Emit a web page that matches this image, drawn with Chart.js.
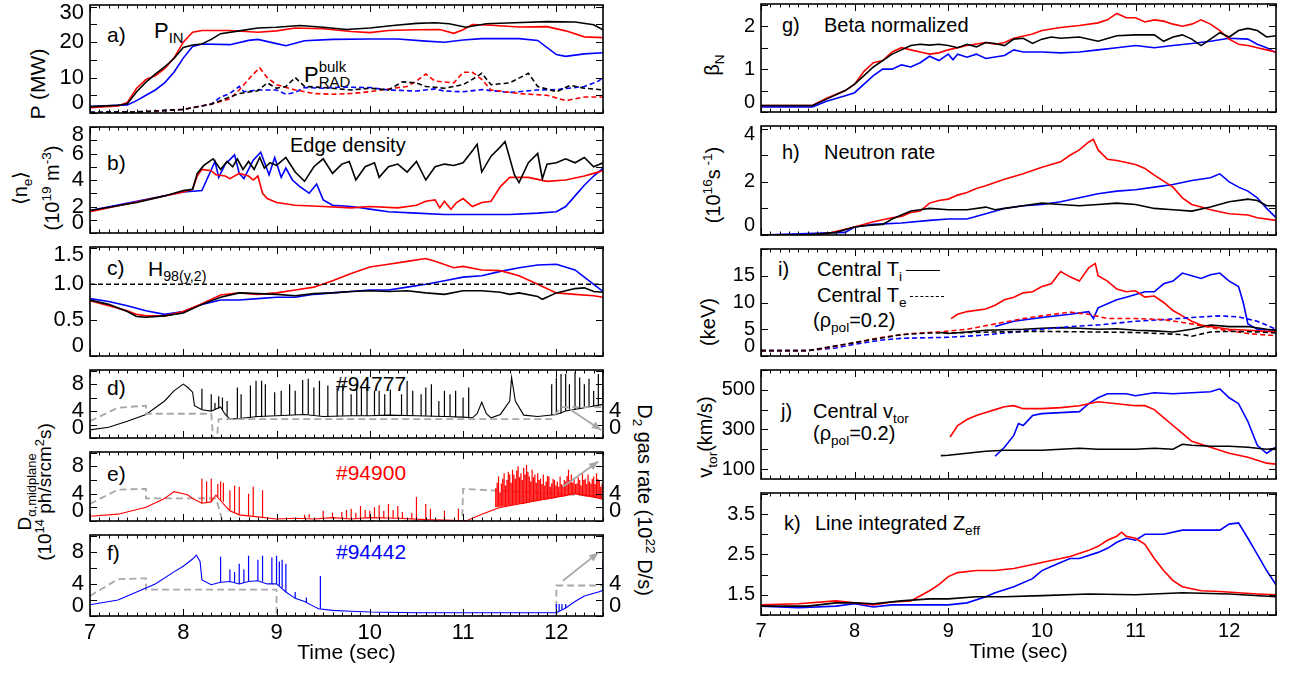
<!DOCTYPE html>
<html>
<head>
<meta charset="utf-8">
<script src="https://cdn.jsdelivr.net/npm/chart.js@4.4.1/dist/chart.umd.min.js"></script>
<style>
body { margin: 0; background: #fff; }
#fig { position: relative; width: 1295px; height: 675px; overflow: hidden; font-family: "Liberation Sans", Arial, Helvetica, sans-serif; color: #000; }
canvas { position: absolute; }
.lbl { position: absolute; white-space: nowrap; font-size: 20px; line-height: 1; transform: translateY(-50%); }
.vt { position: absolute; white-space: nowrap; font-size: 20px; line-height: 22px; text-align: center; transform: translate(-50%, -50%) rotate(-90deg); }
.vt.cw { transform: translate(-50%, -50%) rotate(90deg); }
sub, sup { font-size: 0.68em; line-height: 0; }
.smp { display: inline-block; width: 34px; border-top: 1.6px solid #000; vertical-align: middle; margin-left: 4px; }
.smp.d { border-top-style: dashed; }
</style>
</head>
<body>
<div id="fig">
  <!-- left column -->
  <div class="vt" style="left:38px;top:84px;font-size:21px">P (MW)</div>
  <div class="vt" style="left:36px;top:188px;line-height:32px">&#10216;n<sub>e</sub>&#10217;<br>(10<sup>19</sup> m<sup>-3</sup>)</div>
  <div class="vt" style="left:35px;top:492px;font-size:19px;line-height:20px">D<sub>&alpha;,midplane</sub><br>(10<sup>14</sup> ph/srcm<sup>2</sup>s)</div>
  <div class="vt cw" style="left:645px;top:500px">D<sub>2</sub> gas rate (10<sup>22</sup> D/s)</div>

  <div class="lbl" style="left:107px;top:34px;font-size:21px">a)</div>
  <div class="lbl" style="left:154px;top:31px;font-size:22px">P<sub>IN</sub></div>
  <div class="lbl" style="left:304px;top:74px;font-size:22px">P<span style="display:inline-block;vertical-align:-5px;font-size:15px;line-height:15px">bulk<br>RAD</span></div>
  <div class="lbl" style="left:107px;top:162px;font-size:21px">b)</div>
  <div class="lbl" style="left:290px;top:145px">Edge density</div>
  <div class="lbl" style="left:107px;top:267px;font-size:21px">c)</div>
  <div class="lbl" style="left:148px;top:268px;font-size:21px">H<sub>98(y,2)</sub></div>
  <div class="lbl" style="left:107px;top:387px;font-size:21px">d)</div>
  <div class="lbl" style="left:336px;top:383px;font-size:21px">#94777</div>
  <div class="lbl" style="left:107px;top:473px;font-size:21px">e)</div>
  <div class="lbl" style="left:336px;top:472px;font-size:21px;color:#ff0000">#94900</div>
  <div class="lbl" style="left:107px;top:552px;font-size:21px">f)</div>
  <div class="lbl" style="left:336px;top:551px;font-size:21px;color:#0000ff">#94442</div>

  <!-- right column -->
  <div class="vt" style="left:712px;top:65px">&beta;<sub>N</sub></div>
  <div class="vt" style="left:713px;top:185px">(10<sup>16</sup>s<sup> -1</sup>)</div>
  <div class="vt" style="left:708px;top:322px">(keV)</div>
  <div class="vt" style="left:705px;top:437px">v<sub>tor</sub>(km/s)</div>

  <div class="lbl" style="left:782px;top:25px">g)</div>
  <div class="lbl" style="left:824px;top:25px">Beta normalized</div>
  <div class="lbl" style="left:782px;top:152px">h)</div>
  <div class="lbl" style="left:824px;top:152px">Neutron rate</div>
  <div class="lbl" style="left:778px;top:269px">i)</div>
  <div class="lbl" style="left:817px;top:269px">Central T<sub>i</sub><span class="smp"></span></div>
  <div class="lbl" style="left:817px;top:295px">Central T<sub>e</sub><span class="smp d"></span></div>
  <div class="lbl" style="left:813px;top:320px">(&rho;<sub>pol</sub>=0.2)</div>
  <div class="lbl" style="left:781px;top:411px">j)</div>
  <div class="lbl" style="left:813px;top:411px">Central v<sub>tor</sub></div>
  <div class="lbl" style="left:813px;top:433px">(&rho;<sub>pol</sub>=0.2)</div>
  <div class="lbl" style="left:784px;top:523px">k)</div>
  <div class="lbl" style="left:815px;top:523px">Line integrated Z<sub>eff</sub></div>
</div>
<script>
// ---- a) input and radiated power (MW)
const pinBlack = [[7,1.8],[7.3,2.2],[7.4,2.6],[7.5,6.0],[7.6,8.7],[7.7,11],[7.8,13],[7.9,15.4],[8.0,18.5],[8.1,19.2],[8.2,19.5],[8.3,20.8],[8.4,22.4],[8.6,23.2],[8.8,24],[9,24.2],[9.25,24.7],[9.5,24.2],[9.75,23.6],[10,24],[10.25,24.7],[10.5,25.3],[10.7,25.5],[10.85,25.2],[11.03,24.2],[11.25,25.2],[11.55,25.5],[11.9,25.8],[12.2,25.7],[12.4,24.9],[12.5,23.5]];
const pinRed = [[7,1.5],[7.3,2.0],[7.4,3.0],[7.5,7.0],[7.6,9.5],[7.7,10.5],[7.8,12.5],[7.9,15.5],[8.0,20],[8.1,22.8],[8.2,23.3],[8.5,23.3],[8.8,22.8],[9.0,23.2],[9.2,24.0],[9.5,23.8],[9.8,23.0],[10.0,22.7],[10.2,23.3],[10.5,23.5],[10.75,23.6],[10.9,22.5],[11.0,23.5],[11.1,25.0],[11.3,24.8],[11.6,24.3],[11.9,24.4],[12.1,23.2],[12.3,21.5],[12.5,21.3]];
const pinBlue = [[7,1.8],[7.4,2.3],[7.5,3.5],[7.6,5.0],[7.7,6.5],[7.8,8.5],[7.9,11.5],[8.0,15.5],[8.1,18.8],[8.2,19.5],[8.5,19.3],[8.7,20.5],[8.8,20.8],[9.0,19.6],[9.1,19.0],[9.3,20.4],[9.6,20.8],[10.0,20.9],[10.3,20.9],[10.6,20.3],[10.8,20.0],[11.0,20.6],[11.2,21.0],[11.6,21.0],[11.8,20.5],[12.0,16.5],[12.1,16.0],[12.3,16.7],[12.5,17.0]];
const pradBlack = [[7,0.2],[7.5,0.3],[8.0,1.0],[8.3,2.5],[8.5,4.5],[8.6,5.5],[8.8,6.3],[8.9,8.5],[9.0,7.0],[9.1,7.5],[9.2,10],[9.3,7.5],[9.5,7.2],[9.8,6.5],[10.0,7.0],[10.2,6.5],[10.35,8.8],[10.5,8.5],[10.6,7.5],[10.8,7.0],[11.0,8.0],[11.1,9.5],[11.2,11.2],[11.3,8.0],[11.5,8.5],[11.7,11.2],[11.8,7.5],[12.0,6.0],[12.15,7.8],[12.3,7.0],[12.5,6.5]];
const pradRed = [[7,0],[7.5,0.2],[8.0,1.0],[8.3,2.5],[8.5,4.0],[8.6,6.5],[8.75,11],[8.82,12.7],[8.9,10],[9.0,8.0],[9.2,6.5],[9.4,5.5],[9.6,5.3],[9.8,5.5],[10.0,6.0],[10.2,6.8],[10.4,7.5],[10.5,9.0],[10.6,11.0],[10.7,9.0],[10.9,8.5],[11.0,11.5],[11.1,11.5],[11.2,9.5],[11.3,6.5],[11.6,5.5],[11.9,5.0],[12.1,3.5],[12.3,4.5],[12.5,4.5]];
const pradBlue = [[7,0.2],[7.5,0.3],[8.0,1.0],[8.3,2.5],[8.4,4.5],[8.5,5.5],[8.6,7.5],[8.65,6.0],[8.8,6.5],[9.0,6.5],[9.1,5.3],[9.2,5.8],[9.3,7.2],[9.5,7.0],[9.7,7.3],[10.0,7.2],[10.2,6.5],[10.5,6.2],[10.7,6.8],[10.8,6.2],[11.0,6.0],[11.2,6.6],[11.5,5.8],[11.8,6.5],[12.0,6.6],[12.3,7.5],[12.45,9.0],[12.5,10]];

// ---- b) edge density
const neBlack = [[7,1.7],[7.5,2.3],[7.8,2.8],[8.0,3.2],[8.1,3.3],[8.15,4.5],[8.22,5.1],[8.32,5.6],[8.4,4.8],[8.47,5.4],[8.53,5.0],[8.58,5.6],[8.64,4.8],[8.7,5.4],[8.76,4.8],[8.82,5.7],[8.87,4.9],[8.93,5.3],[9.0,5.1],[9.1,5.7],[9.2,4.6],[9.3,3.9],[9.4,5.0],[9.5,5.6],[9.6,4.5],[9.7,5.2],[9.78,5.4],[9.85,4.0],[9.95,5.0],[10.05,5.3],[10.1,4.2],[10.2,5.0],[10.3,5.2],[10.4,4.6],[10.5,5.4],[10.6,4.0],[10.7,5.0],[10.8,5.2],[10.9,5.1],[11.0,5.3],[11.1,6.2],[11.15,6.7],[11.2,4.6],[11.3,5.8],[11.4,6.5],[11.45,6.9],[11.55,4.4],[11.6,3.8],[11.7,5.3],[11.8,6.0],[11.85,4.1],[11.9,5.2],[12.0,5.3],[12.1,5.6],[12.2,5.3],[12.3,5.7],[12.4,5.0],[12.5,5.3]];
const neRed = [[7,1.6],[8.0,3.1],[8.1,3.3],[8.15,4.3],[8.2,4.8],[8.3,4.7],[8.35,4.4],[8.45,4.3],[8.5,4.1],[8.6,4.5],[8.7,4.3],[8.75,4.0],[8.8,4.3],[8.85,3.0],[8.9,2.6],[9.0,2.3],[9.2,2.1],[9.5,2.0],[9.8,1.9],[10.0,2.0],[10.3,1.9],[10.5,2.1],[10.6,2.4],[10.7,2.5],[10.75,1.9],[10.8,2.4],[10.87,1.8],[10.93,2.3],[11.0,2.6],[11.1,2.0],[11.2,2.3],[11.3,2.4],[11.4,3.5],[11.5,4.2],[11.7,4.2],[11.9,3.9],[12.1,4.0],[12.3,4.3],[12.4,4.5],[12.5,4.7]];
const neBlue = [[7,1.7],[8.0,3.1],[8.2,3.2],[8.34,5.4],[8.38,4.2],[8.45,5.2],[8.55,5.9],[8.6,4.5],[8.65,4.1],[8.75,5.5],[8.83,6.1],[8.92,4.4],[8.98,5.7],[9.05,4.2],[9.1,4.9],[9.17,4.0],[9.25,3.5],[9.35,3.0],[9.43,3.7],[9.5,2.5],[9.6,2.1],[9.8,2.0],[9.9,1.9],[10.0,1.8],[10.2,1.6],[10.5,1.5],[10.8,1.4],[11.0,1.4],[11.5,1.4],[11.8,1.5],[12.0,1.6],[12.1,2.0],[12.2,2.8],[12.3,3.6],[12.4,4.3],[12.5,4.9]];

// ---- c) H98(y,2)
const hBlack = [[7,0.78],[7.2,0.72],[7.4,0.62],[7.5,0.55],[7.6,0.54],[7.8,0.56],[8.0,0.6],[8.2,0.72],[8.4,0.82],[8.6,0.88],[8.8,0.87],[9.0,0.86],[9.2,0.84],[9.4,0.87],[9.6,0.88],[9.8,0.9],[10.0,0.91],[10.2,0.9],[10.4,0.91],[10.6,0.88],[10.8,0.86],[11.0,0.91],[11.2,0.91],[11.4,0.89],[11.5,0.86],[11.6,0.88],[11.8,0.83],[11.85,0.79],[12.0,0.88],[12.2,0.94],[12.3,0.95],[12.4,0.9],[12.5,0.89]];
const hRed = [[7,0.77],[7.2,0.7],[7.4,0.63],[7.5,0.58],[7.6,0.56],[7.8,0.56],[8.0,0.62],[8.2,0.73],[8.4,0.85],[8.6,0.88],[8.8,0.86],[9.0,0.88],[9.2,0.92],[9.4,0.96],[9.6,1.05],[9.8,1.15],[10.0,1.24],[10.2,1.28],[10.4,1.32],[10.6,1.36],[10.7,1.32],[10.9,1.23],[11.0,1.25],[11.2,1.2],[11.4,1.19],[11.6,1.12],[11.8,1.0],[12.0,0.88],[12.2,0.86],[12.4,0.84],[12.5,0.82]];
const hBlue = [[7,0.8],[7.2,0.76],[7.4,0.7],[7.6,0.63],[7.8,0.58],[8.0,0.62],[8.2,0.72],[8.4,0.78],[8.6,0.78],[8.8,0.8],[9.0,0.82],[9.2,0.82],[9.4,0.86],[9.6,0.88],[9.8,0.9],[10.0,0.92],[10.2,0.92],[10.4,0.96],[10.6,1.0],[10.8,1.05],[11.0,1.1],[11.2,1.12],[11.4,1.18],[11.6,1.23],[11.8,1.27],[12.0,1.28],[12.2,1.2],[12.4,1.0],[12.5,0.9]];
const hRef = [[7,1],[12.5,1]];

// ---- d,e,f) D-alpha (base line + ELM spikes [t, base, peak]) and D2 gas rate
const daBlack = [[7,1.2],[7.2,1.6],[7.4,2.5],[7.6,3.5],[7.8,5.5],[7.9,7.0],[8.0,8.0],[8.05,7.5],[8.1,6.8],[8.12,4.8],[8.2,4.2],[8.3,4.0],[8.4,4.6],[8.45,3.5],[8.5,2.8],[8.6,2.9],[8.8,3.2],[9.0,3.3],[9.3,3.5],[9.5,3.2],[9.8,3.3],[10,3.3],[10.2,3.4],[10.5,3.3],[10.8,3.2],[11.0,3.1],[11.1,3.0],[11.15,3.6],[11.2,5.3],[11.25,3.6],[11.3,3.0],[11.4,3.5],[11.5,5.5],[11.52,9.0],[11.56,5.5],[11.65,3.4],[11.8,3.2],[12.0,3.5],[12.1,4.0],[12.3,4.5],[12.5,5.0]];
const elmBlack = [[8.2,4.2,7.3],[8.3,4,6.5],[8.34,4.2,5.2],[8.38,4.4,6.2],[8.42,4.2,6.0],[8.47,3.3,5.5],[8.58,2.9,7.5],[8.62,2.9,6.5],[8.72,3.0,7.8],[8.78,3.1,8.5],[8.84,3.1,8.5],[8.88,3.2,8.0],[8.98,3.3,6.8],[9.05,3.3,7.0],[9.14,3.4,8.0],[9.2,3.4,7.0],[9.28,3.5,8.6],[9.34,3.5,8.8],[9.4,3.4,7.5],[9.46,3.3,8.5],[9.55,3.2,7.8],[9.65,3.2,7.5],[9.71,3.3,8.0],[9.8,3.3,6.5],[9.86,3.3,8.0],[9.91,3.3,7.5],[9.97,3.3,8.0],[10.05,3.3,7.0],[10.1,3.3,7.0],[10.16,3.4,6.5],[10.22,3.4,7.2],[10.34,3.3,6.5],[10.4,3.3,8.5],[10.46,3.3,7.0],[10.55,3.3,6.5],[10.6,3.3,7.5],[10.66,3.2,8.0],[10.74,3.2,5.5],[10.8,3.2,7.0],[10.86,3.2,6.5],[10.92,3.1,7.0],[11.0,3.1,6.0],[11.06,3.1,7.5],[11.95,3.4,8.0],[12.0,3.5,9.0],[12.05,3.6,9.5],[12.1,4.0,9.5],[12.14,4.1,8.0],[12.2,4.3,9.8],[12.25,4.4,9.0],[12.3,4.5,8.0],[12.35,4.6,8.8],[12.4,4.7,7.0],[12.45,4.8,9.5],[12.5,5.0,9.8]];
const gasD = [[7,2.5],[7.3,4.5],[7.6,4.8],[7.6,3.6],[8.3,3.6],[8.32,0],[8.36,0],[8.38,2.8],[11.95,2.8],[12.05,4.6],[12.5,4.6]];
const arrowD = [12.14, 4.3, 12.48, 1.2];

const daRed = [[7,0.7],[7.3,1.0],[7.6,2.0],[7.8,3.3],[7.9,4.3],[8.0,4.0],[8.05,3.8],[8.1,3.3],[8.2,2.6],[8.3,2.8],[8.35,3.8],[8.4,3.0],[8.45,2.2],[8.5,1.5],[8.6,0.9],[8.8,0.6],[9.0,0.3],[9.2,0.4],[9.4,0.3],[9.6,0.5],[9.8,0.3],[10.0,0.5],[10.3,0.4],[10.6,0.2],[10.9,0.1],[11.0,0],[11.05,0.1],[11.2,1.0],[11.4,2.0],[11.6,2.5],[11.8,3.0],[12.0,3.5],[12.2,4.0],[12.4,3.5],[12.5,3.2]];
const elmRed = [[8.2,2.6,6.2],[8.25,2.7,5.8],[8.3,2.8,6.2],[8.37,3.5,5.4],[8.4,3.0,5.8],[8.43,2.8,5.6],[8.5,1.5,4.5],[8.55,1.2,5.2],[8.6,0.9,5.0],[8.7,0.7,4.0],[8.75,0.7,5.0],[8.85,0.6,4.5],[9.3,0.4,0.9],[9.35,0.4,1.0],[9.5,0.4,1.5],[9.6,0.5,1.2],[9.7,0.4,1.3],[9.75,0.3,1.6],[9.8,0.3,1.8],[9.85,0.3,1.2],[9.9,0.3,2.2],[9.95,0.4,1.6],[10.0,0.5,1.5],[10.05,0.5,2.0],[10.1,0.5,2.3],[10.15,0.4,1.5],[10.2,0.4,2.5],[10.25,0.4,1.6],[10.3,0.4,2.2],[10.35,0.4,1.3],[10.45,0.3,1.2],[10.5,0.3,3.5],[10.6,0.2,2.5],[10.65,0.2,1.8],[10.8,0.1,1.5],[10.95,0.1,1.8],[11.35,2.0,4.8],[11.365,2.0,5.6],[11.38,2.1,6.5],[11.395,2.1,4.2],[11.41,2.1,5.5],[11.425,2.2,6.2],[11.44,2.2,7.0],[11.455,2.2,5.2],[11.47,2.2,6.0],[11.485,2.3,7.2],[11.5,2.3,6.8],[11.515,2.3,5.6],[11.53,2.3,7.5],[11.545,2.4,6.8],[11.56,2.4,6.2],[11.575,2.4,7.4],[11.59,2.5,8.0],[11.605,2.5,6.4],[11.62,2.5,7.0],[11.635,2.5,6.0],[11.65,2.5,7.8],[11.665,2.6,6.8],[11.68,2.6,8.2],[11.695,2.7,7.2],[11.71,2.7,6.5],[11.725,2.8,5.8],[11.74,2.8,7.5],[11.755,2.8,6.4],[11.77,2.9,6.8],[11.785,2.9,5.6],[11.8,3.0,7.0],[11.815,3.0,6.0],[11.83,3.0,6.2],[11.845,3.1,5.4],[11.86,3.1,6.8],[11.875,3.1,5.2],[11.89,3.2,5.8],[11.905,3.2,6.6],[11.92,3.2,6.5],[11.935,3.3,5.0],[11.95,3.3,5.5],[11.965,3.3,6.2],[11.98,3.4,6.0],[11.995,3.4,5.2],[12.01,3.5,5.8],[12.025,3.5,5.0],[12.04,3.5,6.5],[12.055,3.5,5.4],[12.07,3.6,5.2],[12.085,3.6,6.0],[12.1,3.7,5.8],[12.115,3.7,6.6],[12.13,3.8,7.5],[12.145,3.8,6.0],[12.16,3.9,6.8],[12.175,3.9,5.6],[12.19,4.0,6.2],[12.205,4.0,5.4],[12.22,3.9,5.5],[12.235,3.9,6.4],[12.25,3.8,6.0],[12.265,3.8,5.2],[12.28,3.7,7.0],[12.295,3.7,6.0],[12.31,3.6,6.2],[12.325,3.6,5.4],[12.34,3.6,6.8],[12.355,3.5,5.8],[12.37,3.5,5.5],[12.385,3.5,6.2],[12.4,3.5,6.5],[12.415,3.4,5.4],[12.43,3.4,7.0],[12.445,3.4,6.2],[12.46,3.3,6.0],[12.475,3.3,5.0],[12.49,3.2,5.5]];
const gasE = [[7,2.5],[7.3,4.6],[7.6,4.7],[7.6,3.3],[8.35,3.3],[8.38,2.0],[8.42,0],[10.99,0],[11.0,4.7],[12.0,4.0],[12.5,3.6]];
const arrowE = [12.07, 5.0, 12.45, 8.7];

const daBlue = [[7,1.4],[7.3,2.0],[7.5,3.0],[7.7,4.0],[7.9,5.5],[8.0,6.2],[8.1,7.1],[8.14,7.6],[8.18,6.8],[8.2,4.5],[8.3,3.9],[8.4,4.2],[8.5,4.3],[8.6,4.0],[8.7,4.3],[8.8,4.4],[8.9,4.0],[9.0,4.0],[9.05,3.5],[9.1,3.0],[9.2,2.2],[9.3,1.8],[9.4,1.2],[9.45,0.9],[9.6,0.7],[9.8,0.6],[10.0,0.5],[10.5,0.4],[11.0,0.4],[11.5,0.4],[12.0,0.4],[12.1,1.0],[12.2,1.8],[12.3,2.5],[12.45,3.0],[12.5,3.2]];
const elmBlue = [[8.4,4.2,7.4],[8.5,4.3,5.8],[8.55,4.2,5.5],[8.6,4.0,6.5],[8.65,4.1,5.8],[8.7,4.3,7.5],[8.8,4.4,7.0],[8.85,4.3,7.5],[8.95,4.0,7.3],[9.0,4.0,7.5],[9.03,3.8,6.8],[9.06,3.5,7.0],[9.1,3.0,6.5],[9.2,2.2,3.0],[9.32,1.7,2.3],[9.47,0.9,5.0],[12.0,0.4,1.5],[12.03,0.6,1.5],[12.06,0.8,1.5],[12.1,1.0,1.5],[12.5,3.2,6.8]];
const gasF = [[7,2.5],[7.3,4.6],[7.6,4.7],[7.6,3.3],[9.0,3.3],[9.0,0],[12.0,0],[12.0,3.8],[12.5,3.8]];
const arrowF = [12.07, 4.4, 12.45, 7.9];

// ---- g) beta N
const bnBlack = [[7,0.15],[7.55,0.15],[7.7,0.3],[7.9,0.5],[8.0,0.65],[8.1,0.85],[8.2,1.05],[8.3,1.2],[8.4,1.35],[8.5,1.45],[8.6,1.55],[8.7,1.58],[8.8,1.56],[8.9,1.58],[9.0,1.55],[9.1,1.5],[9.2,1.58],[9.3,1.52],[9.4,1.62],[9.5,1.6],[9.6,1.55],[9.7,1.7],[9.8,1.72],[9.9,1.6],[10.0,1.7],[10.1,1.75],[10.2,1.72],[10.4,1.75],[10.6,1.65],[10.8,1.78],[11.0,1.8],[11.2,1.8],[11.3,1.65],[11.4,1.75],[11.5,1.8],[11.6,1.7],[11.7,1.55],[11.8,1.7],[11.9,1.85],[12.0,1.75],[12.1,1.9],[12.2,1.95],[12.3,1.9],[12.4,1.75],[12.5,1.78]];
const bnRed = [[7,0.15],[7.55,0.15],[7.7,0.32],[7.9,0.5],[8.0,0.65],[8.1,0.95],[8.2,1.15],[8.3,1.2],[8.4,1.4],[8.5,1.5],[8.6,1.45],[8.7,1.4],[8.8,1.35],[8.9,1.38],[9.0,1.45],[9.2,1.55],[9.4,1.62],[9.5,1.58],[9.6,1.62],[9.7,1.72],[9.9,1.82],[10.0,1.9],[10.2,1.97],[10.4,2.02],[10.6,2.08],[10.7,2.15],[10.8,2.3],[10.9,2.2],[11.0,2.2],[11.1,2.1],[11.2,2.15],[11.3,2.12],[11.4,2.05],[11.5,2.0],[11.6,2.05],[11.7,2.15],[11.8,2.05],[11.9,1.9],[12.0,1.7],[12.1,1.58],[12.2,1.55],[12.3,1.5],[12.4,1.45],[12.5,1.4]];
const bnBlue = [[7,0.12],[7.55,0.12],[7.7,0.25],[7.9,0.38],[8.0,0.45],[8.1,0.65],[8.2,0.85],[8.3,1.0],[8.4,1.0],[8.5,1.1],[8.6,1.05],[8.7,1.15],[8.8,1.3],[8.9,1.2],[9.0,1.35],[9.05,1.22],[9.1,1.35],[9.2,1.28],[9.3,1.35],[9.4,1.25],[9.6,1.32],[9.7,1.45],[9.8,1.4],[10.0,1.4],[10.2,1.38],[10.4,1.4],[10.6,1.45],[10.8,1.5],[11.0,1.55],[11.2,1.5],[11.4,1.55],[11.6,1.6],[11.8,1.65],[12.0,1.72],[12.2,1.7],[12.3,1.58],[12.4,1.5],[12.5,1.38]];

// ---- h) neutron rate
const nrBlack = [[7,0],[7.5,0],[7.8,0.1],[8.0,0.3],[8.1,0.35],[8.3,0.4],[8.4,0.6],[8.5,0.75],[8.6,0.9],[8.7,0.95],[8.8,1.0],[9.0,0.95],[9.2,0.95],[9.4,1.05],[9.5,0.95],[9.6,1.0],[9.8,1.1],[10.0,1.2],[10.2,1.15],[10.4,1.1],[10.6,1.15],[10.8,1.2],[11.0,1.15],[11.2,1.0],[11.4,0.95],[11.6,0.9],[11.8,1.05],[12.0,1.25],[12.2,1.35],[12.3,1.3],[12.4,1.1],[12.5,1.1]];
const nrRed = [[7,0],[7.5,0],[7.7,0.05],[8.0,0.3],[8.2,0.5],[8.4,0.65],[8.5,0.7],[8.6,0.85],[8.7,0.9],[8.8,1.2],[8.9,1.3],[9.0,1.35],[9.1,1.5],[9.2,1.6],[9.3,1.75],[9.4,1.85],[9.6,2.1],[9.8,2.3],[10.0,2.55],[10.2,2.75],[10.3,3.0],[10.4,3.2],[10.5,3.5],[10.55,3.6],[10.6,3.2],[10.7,2.85],[10.8,2.8],[11.0,2.65],[11.1,2.5],[11.2,2.25],[11.4,1.8],[11.5,1.4],[11.6,1.15],[11.7,1.05],[11.8,0.95],[12.0,0.8],[12.2,0.75],[12.3,0.65],[12.5,0.55]];
const nrBlue = [[7,0],[7.9,0.1],[8.0,0.3],[8.2,0.4],[8.5,0.45],[8.8,0.55],[9.0,0.6],[9.2,0.6],[9.4,0.8],[9.6,1.0],[9.8,1.1],[10.0,1.15],[10.2,1.25],[10.4,1.4],[10.6,1.55],[10.8,1.65],[11.0,1.7],[11.2,1.8],[11.4,1.9],[11.6,2.05],[11.8,2.15],[11.9,2.3],[12.0,2.0],[12.1,1.8],[12.2,1.65],[12.3,1.4],[12.4,1.0],[12.5,0.65]];

// ---- i) central Ti (solid) and Te (dashed), keV
const tiBlack = [[8.92,4.4],[9.0,4.2],[9.2,4.5],[9.4,4.8],[9.6,4.9],[9.8,5.0],[10.0,5.2],[10.2,5.3],[10.4,5.2],[10.6,5.0],[10.8,5.1],[11.0,4.8],[11.2,4.7],[11.4,4.5],[11.6,5.0],[11.8,5.8],[12.0,5.5],[12.2,5.5],[12.4,5.0],[12.5,4.8]];
const tiRed = [[9.03,7.0],[9.1,7.8],[9.2,8.3],[9.4,8.8],[9.5,9.5],[9.6,10.5],[9.7,11.0],[9.8,11.8],[9.9,12.0],[10.0,13.0],[10.1,13.5],[10.2,15.8],[10.3,14.8],[10.4,14.0],[10.5,16.5],[10.57,17.3],[10.6,15.0],[10.7,14.0],[10.8,12.5],[10.9,12.0],[11.0,12.2],[11.1,11.0],[11.2,11.2],[11.3,10.0],[11.4,8.5],[11.5,7.5],[11.6,6.5],[11.7,5.8],[11.8,5.5],[12.0,5.0],[12.2,4.8],[12.5,4.5]];
const tiBlue = [[9.5,5.5],[9.7,6.5],[10.0,7.2],[10.3,7.8],[10.5,8.3],[10.55,7.0],[10.6,9.0],[10.8,10.5],[10.9,11.0],[11.0,11.5],[11.1,12.0],[11.2,12.0],[11.3,13.5],[11.4,14.0],[11.5,15.5],[11.6,15.0],[11.7,14.5],[11.8,15.2],[11.9,15.5],[12.0,14.0],[12.1,13.0],[12.15,10.0],[12.2,6.0],[12.3,5.0],[12.5,4.8]];
const teBlack = [[7,1.0],[7.5,1.0],[8.0,2.5],[8.5,4.0],[8.8,4.3],[9.0,4.3],[9.5,4.5],[10.0,4.6],[10.5,4.5],[11.0,4.4],[11.5,4.0],[11.6,3.7],[11.8,4.5],[12.0,4.6],[12.3,4.5],[12.5,4.3]];
const teRed = [[7,1.0],[7.5,1.0],[7.7,1.5],[8.0,2.5],[8.3,3.5],[8.6,4.2],[8.9,4.5],[9.2,5.0],[9.5,6.0],[9.8,7.0],[10.0,7.5],[10.3,8.2],[10.5,7.8],[10.7,7.0],[11.0,7.0],[11.3,6.8],[11.6,6.0],[11.9,5.0],[12.2,4.2],[12.5,3.8]];
const teBlue = [[7,1.0],[7.5,1.0],[7.8,1.5],[8.0,2.2],[8.3,3.0],[8.5,3.3],[9.0,3.5],[9.3,3.8],[9.6,4.3],[10.0,5.0],[10.3,5.5],[10.6,5.8],[11.0,6.5],[11.3,6.8],[11.6,7.2],[11.9,7.5],[12.1,7.3],[12.3,6.5],[12.5,5.0]];

// ---- j) central v_tor (km/s)
const vtBlack = [[8.92,168],[9.0,170],[9.2,180],[9.4,190],[9.6,195],[10.0,195],[10.2,200],[10.4,205],[10.6,200],[10.8,200],[11.0,200],[11.2,205],[11.4,200],[11.5,225],[11.6,220],[11.8,215],[12.0,215],[12.2,210],[12.4,200],[12.5,205]];
const vtRed = [[9.02,262],[9.1,320],[9.2,350],[9.3,370],[9.4,385],[9.5,400],[9.6,415],[9.7,420],[9.8,405],[10.0,405],[10.2,410],[10.4,420],[10.6,440],[10.8,430],[11.0,420],[11.1,420],[11.2,400],[11.3,360],[11.4,320],[11.5,280],[11.6,240],[11.8,210],[12.0,180],[12.2,160],[12.4,130],[12.5,125]];
const vtBlue = [[9.5,165],[9.6,210],[9.7,270],[9.75,330],[9.8,320],[9.9,370],[10.0,380],[10.2,385],[10.4,390],[10.5,430],[10.6,460],[10.7,480],[10.9,480],[11.0,470],[11.2,485],[11.4,480],[11.6,485],[11.8,490],[11.9,505],[12.0,460],[12.1,430],[12.2,340],[12.3,220],[12.4,180],[12.5,210]];

// ---- k) line integrated Zeff
const zBlack = [[7,1.22],[7.5,1.22],[7.8,1.3],[8.0,1.3],[8.2,1.28],[8.5,1.35],[8.8,1.4],[9.0,1.4],[9.3,1.45],[9.6,1.45],[10.0,1.48],[10.5,1.52],[11.0,1.5],[11.5,1.55],[12.0,1.52],[12.5,1.45]];
const zRed = [[7,1.25],[7.4,1.28],[7.8,1.35],[8.0,1.3],[8.2,1.25],[8.4,1.32],[8.6,1.35],[8.8,1.6],[8.9,1.75],[9.0,1.95],[9.1,2.05],[9.3,2.1],[9.5,2.1],[9.7,2.15],[9.9,2.25],[10.1,2.35],[10.3,2.45],[10.5,2.6],[10.6,2.7],[10.7,2.85],[10.8,2.95],[10.85,3.05],[10.9,2.95],[11.0,2.9],[11.1,2.75],[11.2,2.4],[11.3,2.1],[11.4,1.85],[11.5,1.7],[11.7,1.6],[11.9,1.58],[12.1,1.55],[12.3,1.52],[12.5,1.5]];
const zBlue = [[7,1.22],[7.4,1.18],[7.8,1.22],[8.0,1.28],[8.2,1.2],[8.4,1.25],[8.6,1.25],[8.8,1.25],[9.0,1.25],[9.2,1.3],[9.4,1.45],[9.5,1.55],[9.7,1.7],[9.9,1.9],[10.0,2.1],[10.1,2.2],[10.2,2.3],[10.3,2.4],[10.4,2.4],[10.6,2.55],[10.7,2.65],[10.8,2.8],[10.9,2.9],[11.0,2.85],[11.1,3.0],[11.3,3.0],[11.5,3.1],[11.7,3.1],[11.9,3.1],[12.0,3.25],[12.1,3.28],[12.2,2.9],[12.3,2.5],[12.4,2.1],[12.5,1.75]];

// tick labels of each y axis
const ticksA = ['0','10','20','30'], ticksB = ['0','2','4','6','8'], ticksC = ['0','0.5','1.0','1.5'];
const ticksDa = ['0','4','8'], ticksGas = ['0','4'];
const ticksG = ['0','1','2'], ticksH = ['0','2','4'], ticksI = ['0','5','10','15'], ticksJ = ['100','300','500'], ticksK = ['1.5','2.5','3.5'];

const BLACK = '#000000', RED = '#ff0000', BLUE = '#0000ff', GRAY = '#a8a8a8';
const FONT = "'Liberation Sans', Arial, Helvetica, sans-serif";
Chart.defaults.font.family = FONT;
Chart.defaults.color = '#000';
const fig = document.getElementById('fig');

function line(data, color, extra) {
  return Object.assign({ data: data, borderColor: color, borderWidth: 1.6, pointRadius: 0, fill: false, tension: 0, yAxisID: 'y' }, extra || {});
}
function dashed(data, color) { return line(data, color, { borderDash: [5, 3] }); }
function gas(data) { return line(data, GRAY, { borderDash: [7, 4], borderWidth: 1.8, yAxisID: 'y2' }); }
function spikes(list, color) {
  const pts = [];
  for (const [t, b, p] of list) pts.push([t, b], [t, p], [t, b], [t, null]);
  return line(pts, color, { borderWidth: 1.2 });
}

// frame, inward ticks, tick labels kept inside the frame, gray arrows
const framePlugin = {
  id: 'frame',
  afterDatasetsDraw(chart, args, o) {
    const ctx = chart.ctx, a = chart.chartArea, sx = chart.scales.x;
    ctx.save();
    ctx.strokeStyle = '#000';
    ctx.lineWidth = 1;
    ctx.beginPath();
    for (let k = 70; k <= 125; k++) {
      const px = Math.round(sx.getPixelForValue(k / 10)) + 0.5;
      const len = k % 10 === 0 ? 7 : 3.5;
      ctx.moveTo(px, a.bottom); ctx.lineTo(px, a.bottom - len);
      ctx.moveTo(px, a.top); ctx.lineTo(px, a.top + len);
    }
    const sy = chart.scales.y, s2 = chart.scales.y2;
    for (const t of sy.ticks) {
      const py = Math.round(sy.getPixelForValue(t.value)) + 0.5;
      ctx.moveTo(a.left, py); ctx.lineTo(a.left + 7, py);
      if (!s2) { ctx.moveTo(a.right, py); ctx.lineTo(a.right - 7, py); }
    }
    if (s2) {
      for (const t of s2.ticks) {
        const py = Math.round(s2.getPixelForValue(t.value)) + 0.5;
        ctx.moveTo(a.right, py); ctx.lineTo(a.right - 7, py);
      }
    }
    ctx.stroke();
    ctx.lineWidth = 1.6;
    ctx.strokeRect(a.left, a.top, a.right - a.left, a.bottom - a.top);

    ctx.fillStyle = '#000';
    ctx.font = o.size + 'px ' + FONT;
    ctx.textBaseline = 'middle';
    const put = (scale, labels, x, align) => {
      ctx.textAlign = align;
      for (const l of labels) {
        let py = scale.getPixelForValue(parseFloat(l));
        py = Math.min(Math.max(py, a.top + 8), a.bottom - 10);
        ctx.fillText(l, x, py);
      }
    };
    put(sy, o.yLabels, a.left - 6, 'right');
    if (s2) put(s2, o.y2Labels, a.right + 6, 'left');

    if (o.arrow) {
      const r = o.arrow;
      const x1 = sx.getPixelForValue(r[0]), y1 = s2.getPixelForValue(r[1]);
      const x2 = sx.getPixelForValue(r[2]), y2 = s2.getPixelForValue(r[3]);
      const ang = Math.atan2(y2 - y1, x2 - x1);
      ctx.strokeStyle = GRAY; ctx.fillStyle = GRAY; ctx.lineWidth = 1.8;
      ctx.beginPath(); ctx.moveTo(x1, y1); ctx.lineTo(x2, y2); ctx.stroke();
      ctx.beginPath();
      ctx.moveTo(x2, y2);
      ctx.lineTo(x2 - 10 * Math.cos(ang - 0.4), y2 - 10 * Math.sin(ang - 0.4));
      ctx.lineTo(x2 - 10 * Math.cos(ang + 0.4), y2 - 10 * Math.sin(ang + 0.4));
      ctx.closePath(); ctx.fill();
    }
    ctx.restore();
  }
};

function axisY(pos, spec, width) {
  return {
    type: 'linear', position: pos, min: spec.min, max: spec.max,
    afterFit: s => { s.width = width; },
    grid: { display: false, drawTicks: false },
    border: { display: false },
    ticks: { display: false, stepSize: spec.step, includeBounds: false, autoSkip: false }
  };
}

function makePanel(box, y, sets, more) {
  more = more || {};
  const L = 90, R = 50, PT = 14, PB = more.bottom ? 52 : 14;
  const size = box[0] > 700 ? 20 : 22;
  const cv = document.createElement('canvas');
  cv.width = box[2] - box[0] + L + R;
  cv.height = box[3] - box[1] + PT + PB;
  cv.style.left = (box[0] - L) + 'px';
  cv.style.top = (box[1] - PT) + 'px';
  fig.appendChild(cv);
  const scales = {
    x: {
      type: 'linear', min: 7, max: 12.5, display: !!more.bottom,
      afterFit: s => { s.height = PB; },
      grid: { display: false, drawTicks: false },
      border: { display: false },
      ticks: { stepSize: 1, includeBounds: false, autoSkip: false, maxRotation: 0, padding: 4, font: { size: size }, color: '#000' },
      title: { display: !!more.bottom, text: 'Time (sec)', font: { size: 21 }, color: '#000', padding: { top: 2, bottom: 2 } }
    },
    y: axisY('left', y, L)
  };
  if (more.y2) scales.y2 = axisY('right', more.y2, R);
  new Chart(cv, {
    type: 'line',
    data: { datasets: sets },
    options: {
      responsive: false, animation: false, events: [],
      layout: { padding: { left: 0, right: more.y2 ? 0 : R, top: PT, bottom: more.bottom ? 0 : PB } },
      plugins: {
        legend: { display: false }, tooltip: { enabled: false },
        frame: { arrow: more.arrow, size: size, yLabels: y.labels, y2Labels: more.y2 ? more.y2.labels : [] }
      },
      scales: scales
    },
    plugins: [framePlugin]
  });
}

// left column
makePanel([90, 5, 603, 127], { min: 0, max: 30.5, step: 5, labels: ticksA },
  [dashed(pradBlack, BLACK), dashed(pradRed, RED), dashed(pradBlue, BLUE), line(pinBlack, BLACK), line(pinRed, RED), line(pinBlue, BLUE)]);
makePanel([90, 127, 603, 247], { min: 0, max: 8, step: 1, labels: ticksB },
  [line(neBlack, BLACK), line(neRed, RED), line(neBlue, BLUE)]);
makePanel([90, 247, 603, 370], { min: 0, max: 1.52, step: 0.5, labels: ticksC },
  [dashed(hRef, BLACK), line(hBlack, BLACK), line(hRed, RED), line(hBlue, BLUE)]);
const daAxis = { min: 0, max: 10.1, step: 2, labels: ticksDa }, gasAxis = { min: 0, max: 10.1, step: 2, labels: ticksGas };
makePanel([90, 370, 603, 452], daAxis,
  [gas(gasD), line(daBlack, BLACK, { borderWidth: 1.1 }), spikes(elmBlack, BLACK)], { y2: gasAxis, arrow: arrowD });
makePanel([90, 452, 603, 535], daAxis,
  [line(daRed, RED, { borderWidth: 1.1 }), spikes(elmRed, RED), gas(gasE)], { y2: gasAxis, arrow: arrowE });
makePanel([90, 535, 603, 616], daAxis,
  [line(daBlue, BLUE, { borderWidth: 1.1 }), spikes(elmBlue, BLUE), gas(gasF)], { y2: gasAxis, arrow: arrowF, bottom: true });

// right column
makePanel([761, 4, 1276, 126], { min: 0, max: 2.52, step: 0.5, labels: ticksG },
  [line(bnBlack, BLACK), line(bnRed, RED), line(bnBlue, BLUE)]);
makePanel([761, 126, 1276, 249], { min: 0, max: 4.1, step: 1, labels: ticksH },
  [line(nrBlack, BLACK), line(nrRed, RED), line(nrBlue, BLUE)]);
makePanel([761, 249, 1276, 370], { min: 0, max: 20, step: 5, labels: ticksI },
  [dashed(teBlack, BLACK), dashed(teRed, RED), dashed(teBlue, BLUE), line(tiBlack, BLACK), line(tiRed, RED), line(tiBlue, BLUE)]);
makePanel([761, 370, 1276, 493], { min: 50, max: 600, step: 100, labels: ticksJ },
  [line(vtBlack, BLACK), line(vtRed, RED), line(vtBlue, BLUE)]);
makePanel([761, 493, 1276, 615], { min: 1.0, max: 4.02, step: 0.5, labels: ticksK },
  [line(zBlack, BLACK), line(zRed, RED), line(zBlue, BLUE)], { bottom: true });
</script>
</body>
</html>
